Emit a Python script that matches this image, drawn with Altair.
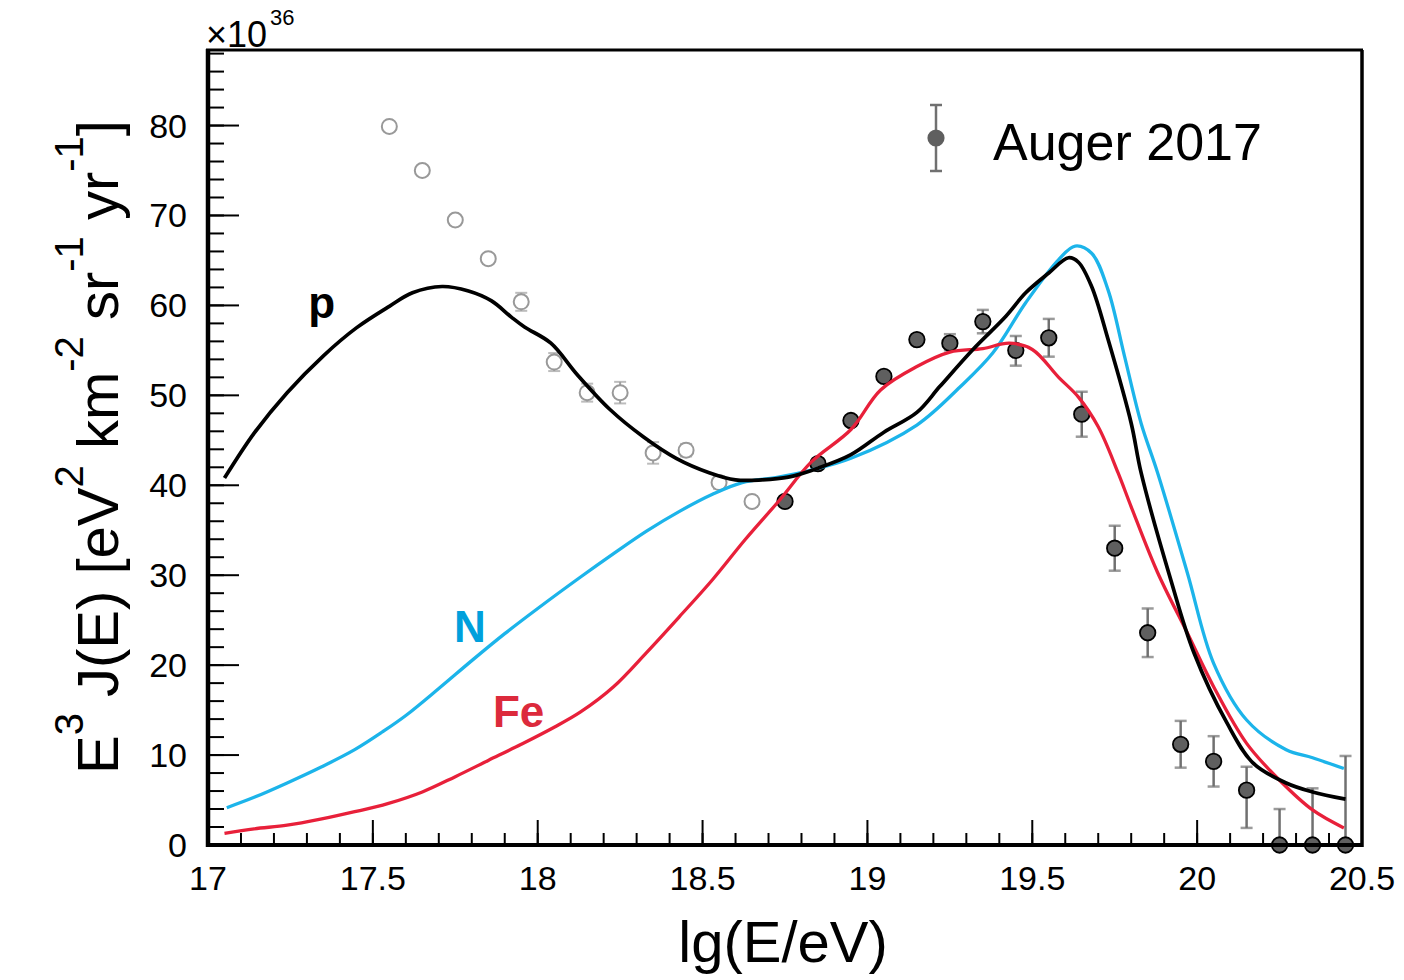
import altair as alt
import pandas as pd

# ---------------- data ----------------
open_x = [17.55, 17.65, 17.75, 17.85, 17.95, 18.05, 18.15, 18.25, 18.35, 18.45, 18.55, 18.65]
open_y = [79.9, 75.0, 69.5, 65.2, 60.4, 53.7, 50.3, 50.3, 43.6, 43.9, 40.3, 38.2]
open_err = [0.3, 0.4, 0.5, 0.5, 1.0, 1.0, 1.0, 1.2, 1.2, 0.7, 0.7, 0.6]

auger_x = [18.75, 18.85, 18.95, 19.05, 19.15, 19.25, 19.35, 19.45, 19.55, 19.65,
           19.75, 19.85, 19.95, 20.05, 20.15, 20.25, 20.35, 20.45]
auger_y = [38.2, 42.4, 47.2, 52.1, 56.2, 55.8, 58.2, 55.0, 56.4, 47.9,
           33.0, 23.6, 11.2, 9.3, 6.1, 0.0, 0.0, 0.0]
auger_lo = [0.3, 0.3, 0.4, 0.5, 0.6, 0.8, 1.3, 1.7, 2.1, 2.5,
            2.5, 2.7, 2.6, 2.8, 4.2, 0.0, 0.0, 0.0]
auger_hi = [0.3, 0.3, 0.4, 0.5, 0.6, 1.0, 1.3, 1.6, 2.1, 2.5,
            2.5, 2.7, 2.6, 2.8, 2.6, 4.0, 6.3, 9.9]

p_x = [17.05, 17.14, 17.24, 17.35, 17.45, 17.55, 17.62, 17.71, 17.79, 17.86, 17.92, 17.96,
       18.04, 18.12, 18.22, 18.32, 18.42, 18.52, 18.60, 18.68, 18.76, 18.85, 18.95, 19.05,
       19.15, 19.22, 19.32, 19.42, 19.48, 19.55, 19.61, 19.64, 19.68, 19.73, 19.80, 19.83,
       19.92, 19.99, 20.09, 20.17, 20.27, 20.35, 20.45]
p_y = [40.8, 45.8, 50.3, 54.4, 57.5, 59.9, 61.4, 62.1, 61.6, 60.5, 58.7, 57.6,
       55.8, 52.3, 48.4, 45.4, 43.0, 41.4, 40.6, 40.6, 40.9, 41.9, 43.4, 45.9,
       48.1, 51.0, 55.1, 58.8, 61.4, 63.6, 65.3, 64.8, 62.1, 56.2, 46.9, 41.4,
       29.5, 21.4, 13.6, 9.1, 6.9, 5.9, 5.1]

n_x = [17.057, 17.14, 17.24, 17.345, 17.445, 17.53, 17.60, 17.70, 17.80, 17.90, 18.0,
       18.13, 18.23, 18.33, 18.43, 18.53, 18.62, 18.73, 18.83, 18.95, 19.15, 19.28,
       19.38, 19.48, 19.58, 19.63, 19.68, 19.73, 19.78, 19.83, 19.88, 19.97, 20.05,
       20.15, 20.27, 20.35, 20.445]
n_y = [4.15, 5.3, 6.9, 8.7, 10.6, 12.6, 14.4, 17.4, 20.5, 23.5, 26.3,
       29.8, 32.4, 34.9, 37.1, 39.0, 40.3, 40.9, 41.7, 43.0, 46.7, 50.9,
       54.7, 60.3, 65.1, 66.6, 65.8, 61.7, 54.3, 46.9, 41.4, 30.3, 20.2,
       13.9, 10.6, 9.7, 8.5]

fe_x = [17.05, 17.14, 17.24, 17.345, 17.445, 17.545, 17.65, 17.75, 17.85, 17.95, 18.05,
        18.13, 18.23, 18.33, 18.43, 18.53, 18.63, 18.73, 18.83, 18.95, 19.04, 19.15,
        19.25, 19.35, 19.43, 19.50, 19.58, 19.64, 19.70, 19.76, 19.80, 19.88, 19.97,
        20.05, 20.15, 20.25, 20.35, 20.445]
fe_y = [1.3, 1.8, 2.2, 2.9, 3.7, 4.6, 5.9, 7.6, 9.4, 11.2, 13.1,
        14.8, 17.6, 21.4, 25.4, 29.5, 34.0, 38.2, 42.6, 46.2, 50.6, 53.2,
        54.8, 55.2, 55.8, 55.1, 52.0, 49.8, 46.5, 41.4, 37.6, 30.3, 23.6,
        17.6, 11.3, 7.2, 3.9, 1.9]

label_text = ["p", "N", "Fe"]
label_x = [17.345, 17.794, 17.942]
label_y = [58.6, 22.6, 13.1]
label_color = ["#000000", "#00a0dc", "#dc2a3c"]

x_major = [17, 17.5, 18, 18.5, 19, 19.5, 20, 20.5]
x_major_text = ["17", "17.5", "18", "18.5", "19", "19.5", "20", "20.5"]
x_minor = [round(17 + 0.1 * i, 1) for i in range(36)]
y_major = [0, 10, 20, 30, 40, 50, 60, 70, 80]
y_major_text = ["0", "10", "20", "30", "40", "50", "60", "70", "80"]
y_minor = list(range(0, 89, 2))

# y title pieces: (text, superscript?, leading space?)
ytitle_parts = [("E", False, False), ("3", True, False), ("J(E)", False, True), ("[eV", False, True),
                ("2", True, False), ("km", False, True), ("-2", True, False), ("sr", False, True),
                ("-1", True, False), ("yr", False, True), ("-1", True, False), ("]", False, False)]

# ---------------- layout ----------------
W, H = 1154, 795
FONT = "Liberation Sans"
xs = alt.Scale(domain=[17, 20.5], nice=False, zero=False)
ys = alt.Scale(domain=[0, 88.4], nice=False, zero=False)


def one():
    return pd.DataFrame({"d": [0]})


open_df = pd.DataFrame({"x": open_x, "y": open_y,
                        "lo": [a - b for a, b in zip(open_y, open_err)],
                        "hi": [a + b for a, b in zip(open_y, open_err)]})
aug_df = pd.DataFrame({"x": auger_x, "y": auger_y,
                       "lo": [a - b for a, b in zip(auger_y, auger_lo)],
                       "hi": [a + b for a, b in zip(auger_y, auger_hi)]})
aug_lo_df = aug_df[[l > 0 for l in auger_lo]]


def X(f="x"):
    return alt.X(f"{f}:Q", scale=xs, axis=None)


def Y(f="y"):
    return alt.Y(f"{f}:Q", scale=ys, axis=None)


# tick labels
xlab = alt.Chart(pd.DataFrame({"x": x_major, "t": x_major_text})).mark_text(
    font=FONT, fontSize=34, align="center", baseline="alphabetic").encode(
    x=X(), y=alt.value(H + 45), text="t:N")
ylab = alt.Chart(pd.DataFrame({"y": y_major, "t": y_major_text})).mark_text(
    font=FONT, fontSize=34, align="right", baseline="alphabetic", dy=12).encode(
    y=Y(), x=alt.value(-21), text="t:N")

# ticks (inward)
xt_major = alt.Chart(pd.DataFrame({"x": x_major})).mark_rule(color="black", strokeWidth=2).encode(
    x=X(), y=alt.value(H), y2=alt.value(H - 25))
xt_minor = alt.Chart(pd.DataFrame({"x": x_minor})).mark_rule(color="black", strokeWidth=2).encode(
    x=X(), y=alt.value(H), y2=alt.value(H - 12))
yt_major = alt.Chart(pd.DataFrame({"y": y_major})).mark_rule(color="black", strokeWidth=2).encode(
    y=Y(), x=alt.value(0), x2=alt.value(31))
yt_minor = alt.Chart(pd.DataFrame({"y": y_minor})).mark_rule(color="black", strokeWidth=2).encode(
    y=Y(), x=alt.value(0), x2=alt.value(16))

# frame
frame_l = alt.Chart(one()).mark_rule(color="black", strokeWidth=4.5).encode(
    x=alt.value(0), y=alt.value(-1), y2=alt.value(H + 2))
frame_b = alt.Chart(one()).mark_rule(color="black", strokeWidth=4).encode(
    y=alt.value(H), x=alt.value(-2), x2=alt.value(W + 1))
frame_t = alt.Chart(one()).mark_rule(color="black", strokeWidth=3).encode(
    y=alt.value(0), x=alt.value(-2), x2=alt.value(W + 1))
frame_r = alt.Chart(one()).mark_rule(color="black", strokeWidth=3.5).encode(
    x=alt.value(W), y=alt.value(0), y2=alt.value(H + 2))

# open (low energy) points: bars and caps below the white-filled marker
open_bar = alt.Chart(open_df).mark_rule(color="#a0a0a0", strokeWidth=2).encode(x=X(), y=Y("lo"), y2=alt.Y2("hi"))
open_cap_hi = alt.Chart(open_df).mark_tick(orient="horizontal", size=12, thickness=2, color="#a0a0a0").encode(
    x=X(), y=Y("hi"))
open_cap_lo = alt.Chart(open_df).mark_tick(orient="horizontal", size=12, thickness=2, color="#a0a0a0").encode(
    x=X(), y=Y("lo"))
open_pt = alt.Chart(open_df).mark_point(shape="circle", size=225, filled=False, fill="white",
                                        stroke="#999999", strokeWidth=2, opacity=1).encode(x=X(), y=Y())

# Auger points
aug_bar = alt.Chart(aug_df).mark_rule(color="#707070", strokeWidth=2.5).encode(x=X(), y=Y("lo"), y2=alt.Y2("hi"))
aug_cap_hi = alt.Chart(aug_df).mark_tick(orient="horizontal", size=12, thickness=2.5, color="#707070").encode(
    x=X(), y=Y("hi"))
aug_cap_lo = alt.Chart(aug_lo_df).mark_tick(orient="horizontal", size=12, thickness=2.5, color="#707070").encode(
    x=X(), y=Y("lo"))
aug_pt = alt.Chart(aug_df).mark_point(shape="circle", size=240, filled=True, fill="#5f5f5f",
                                      stroke="black", strokeWidth=1.8, opacity=1).encode(x=X(), y=Y())


# model curves
def curve(xv, yv, color, w):
    return alt.Chart(pd.DataFrame({"x": xv, "y": yv})).mark_line(
        color=color, strokeWidth=w, interpolate="catmull-rom").encode(x=X(), y=Y())


c_n = curve(n_x, n_y, "#1cb4ea", 3.3)
c_fe = curve(fe_x, fe_y, "#e8203a", 3.3)
c_p = curve(p_x, p_y, "#000000", 3.7)

labels = alt.Chart(pd.DataFrame({"t": label_text, "x": label_x, "y": label_y, "c": label_color})).mark_text(
    font=FONT, fontWeight="bold", fontSize=44, align="center", baseline="alphabetic").encode(
    x=X(), y=Y(), text="t:N", color=alt.Color("c:N", scale=None))

# legend
leg_bar = alt.Chart(one()).mark_rule(color="#707070", strokeWidth=2.5).encode(
    x=alt.value(728), y=alt.value(55), y2=alt.value(121))
leg_cap1 = alt.Chart(one()).mark_rule(color="#707070", strokeWidth=2.5).encode(
    x=alt.value(722), x2=alt.value(734), y=alt.value(55))
leg_cap2 = alt.Chart(one()).mark_rule(color="#707070", strokeWidth=2.5).encode(
    x=alt.value(722), x2=alt.value(734), y=alt.value(121))
leg_pt = alt.Chart(one()).mark_point(shape="circle", size=230, filled=True, fill="#5f5f5f",
                                     stroke="#5f5f5f", opacity=1).encode(x=alt.value(728), y=alt.value(88))
leg_txt = alt.Chart(one()).mark_text(font=FONT, fontSize=52, align="left", baseline="alphabetic").encode(
    x=alt.value(785), y=alt.value(110), text=alt.value("Auger 2017"))

# y title built from pieces (rotated, read bottom to top)
char_w = {"E": 0.667, "J": 0.5, "(": 0.333, ")": 0.333, "[": 0.278, "]": 0.278, " ": 0.278,
          "e": 0.556, "V": 0.667, "k": 0.5, "m": 0.833, "s": 0.5, "r": 0.333, "y": 0.5,
          "-": 0.333, "1": 0.556, "2": 0.556, "3": 0.556}
MAIN_FS, SUP_FS = 58, 40
ytitle_layers = []
pos = 724.0
for txt, sup, lead in ytitle_parts:
    fs = SUP_FS if sup else MAIN_FS
    bx = -125 if sup else -90
    if lead:
        pos -= char_w[" "] * MAIN_FS
    ytitle_layers.append(
        alt.Chart(one()).mark_text(font=FONT, fontSize=fs, align="left", baseline="alphabetic",
                                   angle=270).encode(
            x=alt.value(bx), y=alt.value(pos), text=alt.value(txt)))
    pos -= sum(char_w[c] for c in txt) * fs

xtitle = alt.Chart(one()).mark_text(font=FONT, fontSize=58, align="center", baseline="alphabetic").encode(
    x=alt.value(575), y=alt.value(912), text=alt.value("lg(E/eV)"))
exp1 = alt.Chart(one()).mark_text(font=FONT, fontSize=36, align="left", baseline="alphabetic").encode(
    x=alt.value(-2), y=alt.value(-3), text=alt.value("×10"))
exp2 = alt.Chart(one()).mark_text(font=FONT, fontSize=22, align="left", baseline="alphabetic").encode(
    x=alt.value(62), y=alt.value(-25), text=alt.value("36"))

chart = alt.layer(
    open_bar, open_cap_hi, open_cap_lo, open_pt,
    aug_bar, aug_cap_hi, aug_cap_lo, aug_pt,
    c_n, c_fe, c_p,
    labels,
    xt_minor, xt_major, yt_minor, yt_major,
    frame_l, frame_b, frame_t, frame_r,
    xlab, ylab,
    leg_bar, leg_cap1, leg_cap2, leg_pt, leg_txt,
    *ytitle_layers,
    xtitle, exp1, exp2,
).properties(
    width=W, height=H,
    autosize=alt.AutoSizeParams(type="none"),
    padding={"left": 208, "top": 50, "right": 42, "bottom": 135},
    background="white",
).configure_view(stroke=None)

chart.save("out.html", embed_options={"renderer": "svg", "actions": False})
